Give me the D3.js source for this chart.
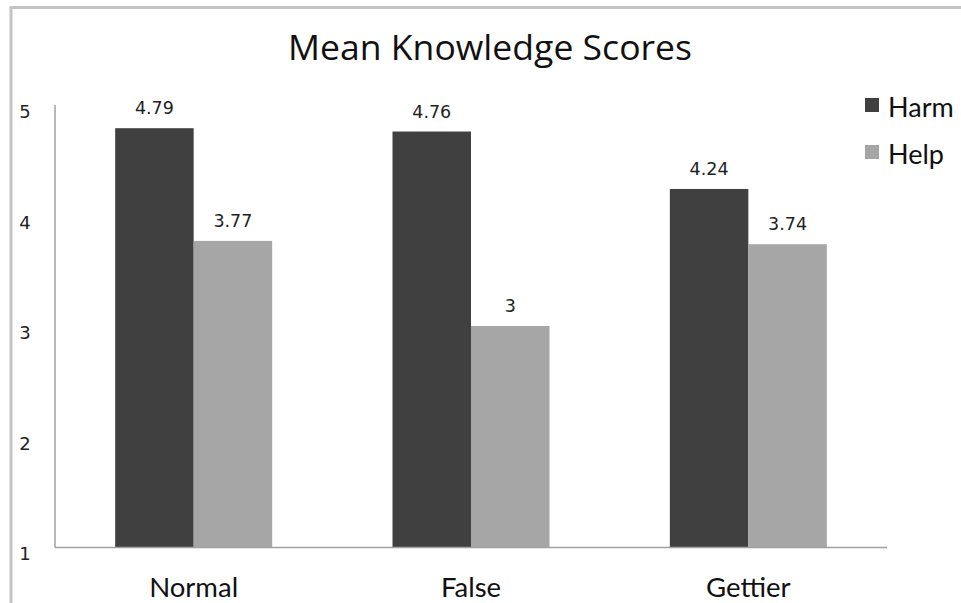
<!DOCTYPE html>
<html><head><meta charset="utf-8">
<script src="https://cdn.jsdelivr.net/npm/d3@7"></script>
<style>body{margin:0;background:#fff}svg{display:block}</style>
</head><body>
<script>
const categories = ["Normal", "False", "Gettier"];
const series = ["Harm", "Help"];
const harmValues = [4.79, 4.76, 4.24];
const helpValues = [3.77, 3, 3.74];
const valueLabels = [["4.79", "3.77"], ["4.76", "3"], ["4.24", "3.74"]];
const yTicks = [1, 2, 3, 4, 5];
const colors = ["#404040", "#a6a6a6"];

const W = 961, H = 603;
const svg = d3.select("body").append("svg").attr("width", W).attr("height", H);

// frame
svg.append("rect").attr("x", 11).attr("y", 7.5).attr("width", W + 20).attr("height", H + 20)
  .attr("fill", "none").attr("stroke", "#c4c4c4").attr("stroke-width", 3);

const x0 = d3.scaleBand().domain(categories).range([55, 887]).paddingInner(0).paddingOuter(0);
const barW = 78.5;
const y = d3.scaleLinear().domain([1, 5]).range([547, 105]);

const titleFont = "'Open Sans', 'Noto Sans', sans-serif";
const numFont = "'DejaVu Sans', sans-serif";

// title
svg.append("text").attr("x", 490).attr("y", 60).attr("text-anchor", "middle")
  .attr("font-family", titleFont).attr("font-size", 34).attr("fill", "#111")
  .attr("textLength", 404).attr("lengthAdjust", "spacingAndGlyphs")
  .text("Mean Knowledge Scores");

// y tick labels
svg.selectAll(".yt").data(yTicks).enter().append("text")
  .attr("x", 25).attr("y", d => y(d) + 13).attr("text-anchor", "middle")
  .attr("font-family", numFont).attr("font-size", 18).attr("fill", "#222")
  .text(d => d);

// bars
const data = categories.map((c, i) => ({c, i, vals: [harmValues[i], helpValues[i]]}));
const g = svg.selectAll(".grp").data(data).enter().append("g");
g.selectAll("rect").data(d => d.vals.map((v, k) => ({v, k, c: d.c, i: d.i}))).enter().append("rect")
  .attr("x", d => x0(d.c) + x0.bandwidth() / 2 - barW + d.k * barW)
  .attr("y", d => y(d.v))
  .attr("width", barW)
  .attr("height", d => y(1) - y(d.v))
  .attr("fill", d => colors[d.k]);
g.selectAll("text.v").data(d => d.vals.map((v, k) => ({v, k, c: d.c, i: d.i}))).enter().append("text")
  .attr("x", d => x0(d.c) + x0.bandwidth() / 2 - barW / 2 + d.k * barW)
  .attr("y", d => y(d.v) - 14)
  .attr("text-anchor", "middle")
  .attr("font-family", numFont).attr("font-size", 17.5).attr("fill", "#222")
  .text(d => valueLabels[d.i][d.k]);

// axes
svg.append("line").attr("x1", 55).attr("x2", 55).attr("y1", 105).attr("y2", 547.5)
  .attr("stroke", "#a0a0a0").attr("stroke-width", 1.5);
svg.append("line").attr("x1", 55).attr("x2", 887).attr("y1", 547.5).attr("y2", 547.5)
  .attr("stroke", "#a0a0a0").attr("stroke-width", 1.5);

// category labels
const catFont = "Lato, 'Noto Sans', sans-serif";
svg.selectAll(".cl").data(categories).enter().append("text")
  .attr("x", d => x0(d) + x0.bandwidth() / 2).attr("y", 597)
  .attr("text-anchor", "middle")
  .attr("font-family", catFont).attr("font-size", 27.5).attr("fill", "#111")
  .text(d => d);

// legend
const lg = svg.selectAll(".lg").data(series).enter().append("g")
  .attr("transform", (d, i) => `translate(865, ${98 + i * 47})`);
lg.append("rect").attr("width", 14).attr("height", 14).attr("fill", (d, i) => colors[i]);
lg.append("text").attr("x", 23).attr("y", 19)
  .attr("font-family", catFont).attr("font-size", 27).attr("fill", "#111")
  .text(d => d);
</script>
</body></html>
